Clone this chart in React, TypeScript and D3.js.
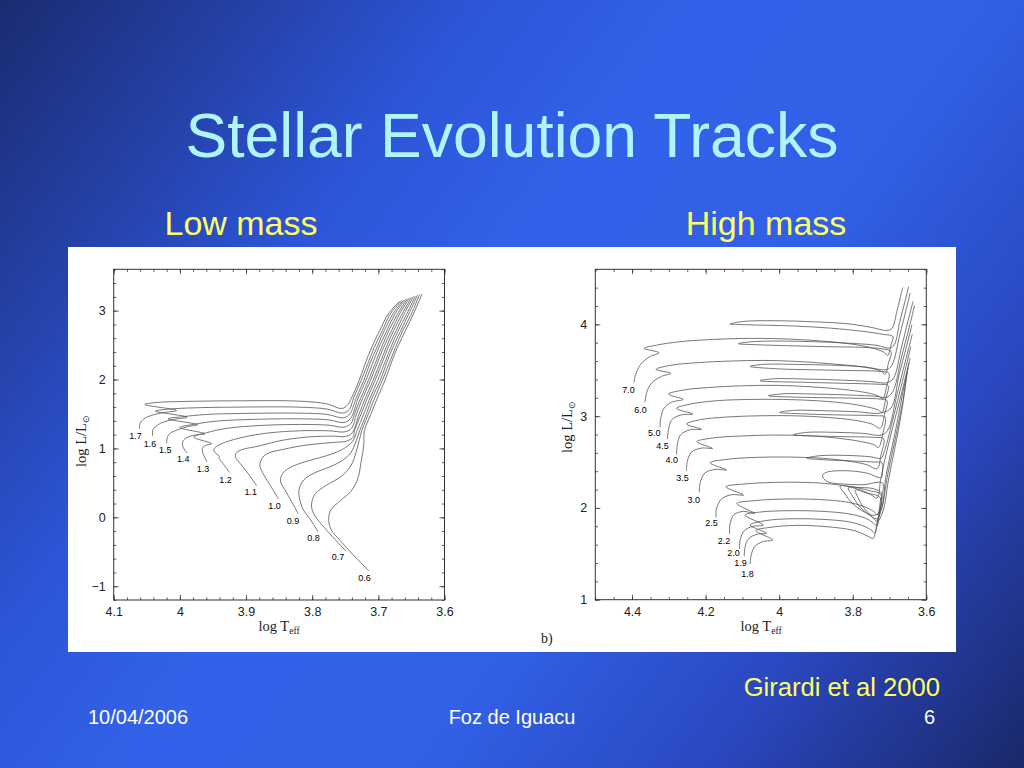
import { useEffect, useRef } from 'react';
import * as d3 from 'd3';

type Pt = [number, number]; // [log Teff, log L/Lsun]

// ---- Low mass panel (left) ----
const low17: Pt[] = [[4.061,1.285],[4.060,1.367],[4.055,1.425],[4.045,1.473],[4.027,1.517],[4.005,1.551],[4.053,1.638],[4.035,1.667],[3.995,1.681],[3.919,1.691],[3.819,1.686],[3.778,1.647],[3.755,1.580],[3.746,1.638],[3.740,1.744],[3.729,1.986],[3.720,2.227],[3.710,2.469],[3.698,2.710],[3.685,2.952],[3.668,3.135]];
const low16: Pt[] = [[4.041,1.179],[4.041,1.261],[4.036,1.324],[4.025,1.382],[4.007,1.425],[3.989,1.454],[4.037,1.541],[4.017,1.570],[3.980,1.589],[3.919,1.599],[3.819,1.599],[3.777,1.570],[3.754,1.512],[3.744,1.565],[3.737,1.744],[3.726,1.986],[3.716,2.227],[3.706,2.469],[3.694,2.710],[3.682,2.952],[3.665,3.145]];
const low15: Pt[] = [[4.020,1.072],[4.019,1.155],[4.015,1.217],[4.002,1.275],[3.987,1.319],[3.973,1.343],[4.018,1.430],[3.997,1.459],[3.960,1.493],[3.909,1.507],[3.819,1.512],[3.777,1.493],[3.753,1.444],[3.743,1.502],[3.733,1.744],[3.722,1.986],[3.713,2.227],[3.702,2.469],[3.691,2.710],[3.678,2.952],[3.662,3.155]];
const low14: Pt[] = [[3.989,0.932],[3.996,1.039],[3.995,1.111],[3.989,1.159],[3.975,1.198],[3.962,1.213],[4.000,1.304],[3.980,1.348],[3.945,1.396],[3.894,1.420],[3.819,1.430],[3.776,1.415],[3.752,1.377],[3.742,1.435],[3.730,1.744],[3.719,1.986],[3.709,2.227],[3.699,2.469],[3.687,2.710],[3.675,2.952],[3.659,3.164]];
const low13: Pt[] = [[3.959,0.807],[3.965,0.928],[3.966,1.000],[3.962,1.039],[3.952,1.068],[3.979,1.164],[3.960,1.227],[3.930,1.290],[3.879,1.333],[3.819,1.348],[3.776,1.338],[3.751,1.309],[3.741,1.367],[3.736,1.502],[3.726,1.744],[3.715,1.986],[3.705,2.227],[3.695,2.469],[3.684,2.710],[3.671,2.952],[3.656,3.174]];
const low12: Pt[] = [[3.925,0.652],[3.935,0.783],[3.941,0.865],[3.940,0.879],[3.949,0.971],[3.946,1.019],[3.932,1.087],[3.904,1.164],[3.864,1.227],[3.819,1.256],[3.775,1.256],[3.750,1.242],[3.740,1.300],[3.733,1.502],[3.723,1.744],[3.712,1.986],[3.702,2.227],[3.692,2.469],[3.680,2.710],[3.668,2.952],[3.653,3.184]];
const low11: Pt[] = [[3.884,0.459],[3.897,0.638],[3.909,0.783],[3.916,0.879],[3.914,0.942],[3.905,0.986],[3.881,1.034],[3.849,1.111],[3.809,1.164],[3.768,1.179],[3.749,1.174],[3.739,1.232],[3.729,1.502],[3.719,1.744],[3.708,1.986],[3.698,2.227],[3.688,2.469],[3.677,2.710],[3.664,2.952],[3.650,3.193]];
const low10: Pt[] = [[3.851,0.266],[3.863,0.459],[3.873,0.614],[3.879,0.749],[3.876,0.855],[3.867,0.928],[3.844,0.986],[3.809,1.048],[3.768,1.087],[3.748,1.106],[3.738,1.164],[3.736,1.261],[3.726,1.502],[3.716,1.744],[3.705,1.986],[3.695,2.227],[3.685,2.469],[3.673,2.710],[3.661,2.952],[3.647,3.203]];
const low09: Pt[] = [[3.821,0.048],[3.831,0.227],[3.841,0.396],[3.848,0.527],[3.845,0.633],[3.834,0.720],[3.814,0.797],[3.789,0.865],[3.768,0.928],[3.750,1.010],[3.738,1.116],[3.732,1.261],[3.722,1.502],[3.712,1.744],[3.701,1.986],[3.691,2.227],[3.681,2.469],[3.670,2.710],[3.657,2.952],[3.644,3.213]];
const low08: Pt[] = [[3.791,-0.213],[3.804,-0.014],[3.813,0.101],[3.819,0.266],[3.820,0.391],[3.814,0.527],[3.799,0.633],[3.773,0.734],[3.756,0.816],[3.742,0.932],[3.734,1.097],[3.728,1.261],[3.718,1.502],[3.709,1.744],[3.697,1.986],[3.688,2.227],[3.678,2.469],[3.666,2.710],[3.654,2.952],[3.641,3.222]];
const low07: Pt[] = [[3.749,-0.488],[3.768,-0.295],[3.786,-0.101],[3.798,0.058],[3.801,0.179],[3.796,0.333],[3.778,0.469],[3.756,0.594],[3.741,0.758],[3.732,1.000],[3.725,1.261],[3.715,1.502],[3.705,1.744],[3.694,1.986],[3.684,2.227],[3.674,2.469],[3.663,2.710],[3.650,2.952],[3.638,3.232]];
const low06: Pt[] = [[3.714,-0.778],[3.738,-0.546],[3.758,-0.333],[3.771,-0.184],[3.775,-0.043],[3.772,0.106],[3.758,0.237],[3.741,0.382],[3.731,0.565],[3.726,0.807],[3.722,1.048],[3.721,1.261],[3.711,1.502],[3.701,1.744],[3.690,1.986],[3.681,2.227],[3.671,2.469],[3.659,2.710],[3.647,2.952],[3.634,3.242]];

const lowMasses = ['1.7', '1.6', '1.5', '1.4', '1.3', '1.2', '1.1', '1.0', '0.9', '0.8', '0.7', '0.6'];
const lowTracks = [low17, low16, low15, low14, low13, low12, low11, low10, low09, low08, low07, low06];
const lowLabelPos: Pt[] = [[4.067,1.184],[4.045,1.072],[4.022,0.976],[3.995,0.845],[3.965,0.710],[3.931,0.546],[3.893,0.372],[3.857,0.169],[3.829,-0.053],[3.798,-0.295],[3.761,-0.580],[3.721,-0.884]];
const lowXTicks = [4.1, 4.0, 3.9, 3.8, 3.7, 3.6];
const lowYTicks = [-1, 0, 1, 2, 3];

// ---- High mass panel (right) ----
const h70: Pt[] = [[4.395,3.368],[4.389,3.469],[4.374,3.578],[4.350,3.651],[4.327,3.691],[4.367,3.738],[4.333,3.774],[4.270,3.811],[4.179,3.836],[4.088,3.847],[3.997,3.843],[3.907,3.825],[3.816,3.792],[3.753,3.749],[3.716,3.698],[3.705,3.662],[3.696,3.778],[3.691,3.869],[3.716,3.890],[3.771,3.923],[3.861,3.959],[3.952,3.981],[4.052,3.992],[4.115,3.999],[4.134,4.003],[4.097,4.032],[3.997,4.039],[3.907,4.028],[3.816,4.007],[3.753,3.970],[3.707,3.934],[3.693,3.959],[3.680,4.141],[3.671,4.286],[3.664,4.402]];
const h60: Pt[] = [[4.365,3.153],[4.360,3.262],[4.347,3.360],[4.320,3.433],[4.295,3.466],[4.335,3.509],[4.297,3.553],[4.224,3.582],[4.134,3.600],[4.043,3.607],[3.952,3.596],[3.861,3.571],[3.771,3.535],[3.725,3.495],[3.712,3.458],[3.703,3.578],[3.696,3.705],[3.716,3.731],[3.771,3.749],[3.861,3.756],[3.970,3.767],[4.061,3.778],[4.111,3.789],[4.075,3.811],[3.997,3.818],[3.907,3.811],[3.816,3.796],[3.734,3.771],[3.700,3.742],[3.687,3.778],[3.672,4.032],[3.658,4.250],[3.648,4.410]];
const h50: Pt[] = [[4.324,2.877],[4.322,2.979],[4.313,3.088],[4.292,3.153],[4.261,3.182],[4.301,3.240],[4.261,3.284],[4.188,3.313],[4.097,3.331],[4.007,3.335],[3.916,3.320],[3.825,3.291],[3.762,3.255],[3.730,3.219],[3.718,3.190],[3.709,3.306],[3.702,3.469],[3.725,3.487],[3.816,3.498],[3.907,3.505],[4.007,3.516],[4.079,3.542],[4.043,3.564],[3.952,3.564],[3.861,3.556],[3.771,3.538],[3.707,3.509],[3.693,3.560],[3.672,3.887],[3.656,4.141],[3.644,4.341]];
const h45: Pt[] = [[4.304,2.750],[4.301,2.852],[4.292,2.961],[4.265,3.015],[4.235,3.023],[4.279,3.084],[4.242,3.131],[4.170,3.168],[4.079,3.182],[3.988,3.182],[3.898,3.168],[3.816,3.139],[3.762,3.102],[3.730,3.066],[3.720,3.037],[3.711,3.179],[3.704,3.335],[3.725,3.346],[3.816,3.357],[3.925,3.368],[4.052,3.386],[4.016,3.407],[3.925,3.404],[3.834,3.393],[3.753,3.378],[3.707,3.364],[3.689,3.415],[3.668,3.742],[3.650,4.032],[3.636,4.250]];
const h40: Pt[] = [[4.279,2.580],[4.277,2.689],[4.268,2.797],[4.242,2.852],[4.211,2.856],[4.252,2.914],[4.215,2.961],[4.143,2.990],[4.052,3.004],[3.961,3.004],[3.870,2.986],[3.798,2.957],[3.748,2.914],[3.725,2.870],[3.714,3.015],[3.707,3.171],[3.725,3.186],[3.816,3.197],[3.925,3.204],[4.029,3.222],[3.988,3.244],[3.898,3.240],[3.807,3.230],[3.734,3.215],[3.709,3.204],[3.691,3.269],[3.668,3.633],[3.647,3.959],[3.632,4.206]];
const h35: Pt[] = [[4.252,2.405],[4.250,2.507],[4.238,2.609],[4.211,2.652],[4.181,2.649],[4.224,2.721],[4.183,2.761],[4.106,2.783],[4.016,2.794],[3.925,2.787],[3.843,2.761],[3.780,2.725],[3.743,2.689],[3.730,2.659],[3.718,2.816],[3.712,2.990],[3.734,3.004],[3.825,3.012],[3.925,3.023],[3.999,3.041],[3.961,3.063],[3.880,3.059],[3.789,3.048],[3.725,3.033],[3.696,3.088],[3.674,3.451],[3.655,3.742],[3.639,3.996]];
const h30: Pt[] = [[4.217,2.169],[4.215,2.271],[4.202,2.380],[4.174,2.420],[4.143,2.413],[4.188,2.492],[4.143,2.529],[4.061,2.551],[3.970,2.554],[3.880,2.540],[3.807,2.507],[3.762,2.471],[3.734,2.427],[3.723,2.580],[3.716,2.754],[3.739,2.768],[3.816,2.776],[3.898,2.783],[3.961,2.797],[3.925,2.823],[3.843,2.823],[3.771,2.812],[3.721,2.794],[3.704,2.852],[3.680,3.233],[3.657,3.596],[3.638,3.894]];
const h25: Pt[] = [[4.172,1.897],[4.170,1.999],[4.156,2.100],[4.129,2.144],[4.097,2.140],[4.145,2.231],[4.097,2.260],[4.016,2.278],[3.925,2.278],[3.843,2.253],[3.789,2.209],[3.753,2.151],[3.734,2.108],[3.725,2.289],[3.720,2.489],[3.743,2.500],[3.816,2.514],[3.880,2.525],[3.925,2.543],[3.889,2.569],[3.816,2.572],[3.753,2.558],[3.723,2.543],[3.714,2.616],[3.688,3.015],[3.665,3.378],[3.642,3.760]];
const h22: Pt[] = [[4.135,1.715],[4.134,1.817],[4.123,1.926],[4.097,1.962],[4.066,1.940],[4.115,2.049],[4.070,2.078],[3.988,2.097],[3.898,2.093],[3.816,2.064],[3.771,2.017],[3.743,1.962],[3.733,1.926],[3.725,2.071],[3.719,2.271],[3.771,2.253],[3.825,2.260],[3.861,2.275],[3.878,2.314],[3.882,2.358],[3.869,2.391],[3.816,2.405],[3.762,2.380],[3.723,2.333],[3.718,2.434],[3.694,2.834],[3.666,3.269],[3.644,3.633]];
const h20: Pt[] = [[4.108,1.552],[4.106,1.654],[4.095,1.752],[4.072,1.799],[4.043,1.813],[4.093,1.922],[4.052,1.955],[3.970,1.970],[3.880,1.962],[3.807,1.933],[3.762,1.882],[3.743,1.832],[3.734,1.803],[3.727,1.962],[3.722,2.162],[3.743,2.209],[3.789,2.224],[3.834,2.238],[3.821,2.151],[3.802,2.053],[3.775,1.970],[3.743,1.919],[3.725,1.962],[3.709,2.362],[3.686,2.797],[3.665,3.233],[3.647,3.578]];
const h19: Pt[] = [[4.095,1.472],[4.093,1.570],[4.083,1.665],[4.059,1.715],[4.034,1.723],[4.079,1.813],[4.038,1.861],[3.961,1.882],[3.880,1.875],[3.807,1.846],[3.766,1.795],[3.747,1.752],[3.740,1.726],[3.731,1.890],[3.723,2.144],[3.753,2.187],[3.812,2.224],[3.800,2.126],[3.784,2.028],[3.762,1.944],[3.734,1.882],[3.721,1.999],[3.705,2.362],[3.684,2.761],[3.664,3.161],[3.650,3.524]];
const h18: Pt[] = [[4.079,1.389],[4.076,1.490],[4.066,1.581],[4.043,1.635],[4.017,1.650],[4.063,1.752],[4.025,1.788],[3.952,1.810],[3.870,1.795],[3.802,1.759],[3.771,1.715],[3.753,1.679],[3.745,1.665],[3.734,1.835],[3.725,2.108],[3.762,2.162],[3.793,2.195],[3.784,2.100],[3.771,2.006],[3.751,1.919],[3.733,1.853],[3.718,1.962],[3.702,2.325],[3.681,2.743],[3.664,3.124],[3.653,3.469]];

const highMasses = ['7.0', '6.0', '5.0', '4.5', '4.0', '3.5', '3.0', '2.5', '2.2', '2.0', '1.9', '1.8'];
const highTracks = [h70, h60, h50, h45, h40, h35, h30, h25, h22, h20, h19, h18];
const highLabelPos: Pt[] = [[4.410,3.284],[4.377,3.073],[4.340,2.823],[4.317,2.674],[4.292,2.521],[4.263,2.329],[4.232,2.086],[4.184,1.832],[4.150,1.640],[4.124,1.515],[4.105,1.400],[4.086,1.285]];
const highXTicks = [4.4, 4.2, 4.0, 3.8, 3.6];
const highYTicks = [1, 2, 3, 4];

const W = 1024;
const H = 768;
const SANS = "'Liberation Sans', Arial, Helvetica, sans-serif";
const SERIF = "'Liberation Serif', 'Times New Roman', serif";

const lowPanel = {
  xDomain: [4.1, 3.6], yDomain: [-1.2, 3.6],
  left: 113.7, right: 444.5, top: 269.3, bottom: 600,
  xTicks: lowXTicks, yTicks: lowYTicks,
  xMinor: d3.range(0, 26).map(i => +(3.6 + i * 0.02).toFixed(2)),
  yMinor: d3.range(0, 25).map(i => +(-1.2 + i * 0.2).toFixed(1)),
  tracks: lowTracks, masses: lowMasses, labelPos: lowLabelPos,
  yTitle: [86, 441], xTitle: [279, 631], yPad: 8,
};

const highPanel = {
  xDomain: [4.5, 3.6], yDomain: [1, 4.6],
  left: 595.3, right: 926.3, top: 269.3, bottom: 599.7,
  xTicks: highXTicks, yTicks: highYTicks,
  xMinor: d3.range(0, 19).map(i => +(3.6 + i * 0.05).toFixed(2)),
  yMinor: d3.range(0, 19).map(i => +(1 + i * 0.2).toFixed(1)),
  tracks: highTracks, masses: highMasses, labelPos: highLabelPos,
  yTitle: [572, 427], xTitle: [761, 631], yPad: 8,
};

const fmtTick = (d: any) => {
  const v = +d;
  return v < 0 ? '\u2212' + Math.abs(v) : String(v);
};

function drawPanel(g: any, p: any) {
  const x = d3.scaleLinear().domain(p.xDomain).range([p.left, p.right]);
  const y = d3.scaleLinear().domain(p.yDomain).range([p.bottom, p.top]);

  const line = d3.line<Pt>()
    .x(d => x(d[0]))
    .y(d => y(d[1]))
    .curve(d3.curveCatmullRom.alpha(0.5));

  // Evolution tracks
  g.append('g')
    .attr('fill', 'none')
    .attr('stroke', '#555')
    .attr('stroke-width', 0.8)
    .selectAll('path')
    .data(p.tracks)
    .enter()
    .append('path')
    .attr('d', (d: Pt[]) => line(d));

  // Mass labels
  g.append('g')
    .selectAll('text')
    .data(p.masses)
    .enter()
    .append('text')
    .attr('x', (d: string, i: number) => x(p.labelPos[i][0]))
    .attr('y', (d: string, i: number) => y(p.labelPos[i][1]))
    .attr('dy', '0.35em')
    .attr('text-anchor', 'middle')
    .attr('font-family', SANS)
    .attr('font-size', 9)
    .attr('fill', '#000')
    .text((d: string) => d);

  // Ticks on all four sides, pointing inward
  const tidy = (sel: any) => {
    sel.select('.domain').remove();
    sel.selectAll('.tick line').attr('stroke', '#333').attr('stroke-width', 0.8);
    sel.selectAll('.tick text')
      .attr('fill', '#222')
      .attr('font-size', 12.5)
      .attr('font-family', SANS);
  };
  const none = () => '';

  g.append('g').attr('transform', `translate(0,${p.bottom})`)
    .call(d3.axisBottom(x).tickValues(p.xMinor).tickSizeInner(-2.6).tickSizeOuter(0).tickFormat(none)).call(tidy);
  g.append('g').attr('transform', `translate(0,${p.bottom})`)
    .call(d3.axisBottom(x).tickValues(p.xTicks).tickSizeInner(-5).tickSizeOuter(0).tickPadding(7).tickFormat(fmtTick)).call(tidy);
  g.append('g').attr('transform', `translate(0,${p.top})`)
    .call(d3.axisTop(x).tickValues(p.xMinor).tickSizeInner(-2.6).tickSizeOuter(0).tickFormat(none)).call(tidy);
  g.append('g').attr('transform', `translate(0,${p.top})`)
    .call(d3.axisTop(x).tickValues(p.xTicks).tickSizeInner(-5).tickSizeOuter(0).tickFormat(none)).call(tidy);

  g.append('g').attr('transform', `translate(${p.left},0)`)
    .call(d3.axisLeft(y).tickValues(p.yMinor).tickSizeInner(-2.6).tickSizeOuter(0).tickFormat(none)).call(tidy);
  g.append('g').attr('transform', `translate(${p.left},0)`)
    .call(d3.axisLeft(y).tickValues(p.yTicks).tickSizeInner(-5).tickSizeOuter(0).tickPadding(p.yPad).tickFormat(fmtTick)).call(tidy);
  g.append('g').attr('transform', `translate(${p.right},0)`)
    .call(d3.axisRight(y).tickValues(p.yMinor).tickSizeInner(-2.6).tickSizeOuter(0).tickFormat(none)).call(tidy);
  g.append('g').attr('transform', `translate(${p.right},0)`)
    .call(d3.axisRight(y).tickValues(p.yTicks).tickSizeInner(-5).tickSizeOuter(0).tickFormat(none)).call(tidy);

  // Frame
  g.append('rect')
    .attr('x', p.left)
    .attr('y', p.top)
    .attr('width', p.right - p.left)
    .attr('height', p.bottom - p.top)
    .attr('fill', 'none')
    .attr('stroke', '#333')
    .attr('stroke-width', 1);

  // Axis titles
  const yt = g.append('text')
    .attr('transform', `translate(${p.yTitle[0]},${p.yTitle[1]}) rotate(-90)`)
    .attr('text-anchor', 'middle')
    .attr('font-family', SERIF)
    .attr('font-size', 14.5)
    .attr('fill', '#222');
  yt.append('tspan').text('log L/L');
  yt.append('tspan').attr('font-size', 8.5).attr('dy', 3).text('\u2299');

  const xt = g.append('text')
    .attr('x', p.xTitle[0])
    .attr('y', p.xTitle[1])
    .attr('text-anchor', 'middle')
    .attr('font-family', SERIF)
    .attr('font-size', 14.5)
    .attr('fill', '#222');
  xt.append('tspan').text('log T');
  xt.append('tspan').attr('font-size', 9.5).attr('dy', 3).text('eff');
}

export default function App() {
  const plotRef = useRef<SVGGElement>(null);

  useEffect(() => {
    if (!plotRef.current) return;
    const root = d3.select(plotRef.current);
    root.selectAll('*').remove();
    drawPanel(root.append('g'), lowPanel);
    drawPanel(root.append('g'), highPanel);
  }, []);

  return (
    <svg width={W} height={H} style={{ position: 'absolute', left: 0, top: 0, display: 'block' }}>
      <defs>
        <linearGradient id="slideBg" gradientUnits="userSpaceOnUse" x1="0" y1="0" x2={W} y2={H}>
          <stop offset="0" stopColor="#1a2b70" />
          <stop offset="0.3" stopColor="#2d55d8" />
          <stop offset="0.45" stopColor="#3362ea" />
          <stop offset="0.62" stopColor="#3160e6" />
          <stop offset="0.8" stopColor="#2a48c0" />
          <stop offset="1" stopColor="#1a2868" />
        </linearGradient>
      </defs>
      <rect width={W} height={H} fill="url(#slideBg)" />

      <text x={512} y={157} textAnchor="middle" fontFamily={SANS} fontSize={62.5} fill="#aef5ff">
        Stellar Evolution Tracks
      </text>
      <text x={241} y={235} textAnchor="middle" fontFamily={SANS} fontSize={34} fill="#ffff66">
        Low mass
      </text>
      <text x={766} y={235} textAnchor="middle" fontFamily={SANS} fontSize={34} fill="#ffff66">
        High mass
      </text>

      <rect x={68} y={247} width={888} height={405} fill="#ffffff" />
      <g ref={plotRef} />
      <text x={541} y={643} fontFamily={SERIF} fontSize={14} fill="#222">b)</text>

      <text x={940} y={696} textAnchor="end" fontFamily={SANS} fontSize={25.6} fill="#ffff66">
        Girardi et al 2000
      </text>
      <text x={88} y={724} fontFamily={SANS} fontSize={20} fill="#ffffff">10/04/2006</text>
      <text x={512} y={724} textAnchor="middle" fontFamily={SANS} fontSize={20} fill="#ffffff">Foz de Iguacu</text>
      <text x={935} y={724} textAnchor="end" fontFamily={SANS} fontSize={20} fill="#ffffff">6</text>
    </svg>
  );
}
